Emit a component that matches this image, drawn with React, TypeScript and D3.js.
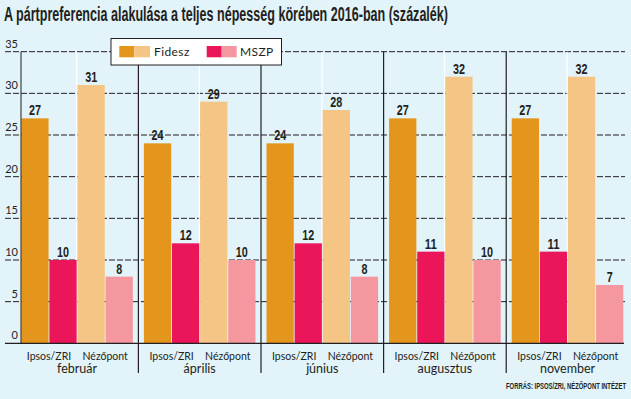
import * as d3 from "d3";

const months = ["február", "április", "június", "augusztus", "november"];
const pollsters = ["Ipsos/ZRI", "Nézőpont"];
const ipsosFidesz = [27, 24, 24, 27, 27];
const ipsosMszp = [10, 12, 12, 11, 11];
const nezopontFidesz = [31, 29, 28, 32, 32];
const nezopontMszp = [8, 10, 8, 10, 7];
const yTicks = [0, 5, 10, 15, 20, 25, 30, 35];

const W = 631;
const H = 399;
const BG = "#e2f3f9";
const INK = "#231f20";
const COND = "'Liberation Sans', 'DejaVu Sans', sans-serif";
const SANS = "Lato, 'Open Sans', sans-serif";

const seriesKeys = ["ipsosFidesz", "ipsosMszp", "nezopontFidesz", "nezopontMszp"];
const seriesColor: Record<string, string> = {
  ipsosFidesz: "#e3961b",
  ipsosMszp: "#eb165a",
  nezopontFidesz: "#f5c586",
  nezopontMszp: "#f5979e",
};

export default function App() {
  const x0 = d3.scaleBand<string>().domain(months).range([21.3, 623.3]).paddingInner(0.09).paddingOuter(0);
  const x1 = d3.scaleBand<string>().domain(seriesKeys).range([0, x0.bandwidth()]).paddingInner(0.03);
  const y = d3.scaleLinear().domain([0, 35]).range([343.3, 51.7]);
  const gap = x0.step() - x0.bandwidth();

  const rows = months.map((m, i) => ({
    month: m,
    values: {
      ipsosFidesz: ipsosFidesz[i],
      ipsosMszp: ipsosMszp[i],
      nezopontFidesz: nezopontFidesz[i],
      nezopontMszp: nezopontMszp[i],
    } as Record<string, number>,
  }));

  return (
    <svg width={W} height={H} style={{ position: "absolute", left: 0, top: 0, background: BG }}>
      <rect width={W} height={H} fill={BG} />
      <text x={4} y={20.5} fontFamily={COND} fontWeight="bold" fontSize={20} fill={INK}
        textLength={444} lengthAdjust="spacingAndGlyphs">
        A pártpreferencia alakulása a teljes népesség körében 2016-ban (százalék)
      </text>

      {/* grid */}
      {yTicks.filter(t => t > 0).map(t => (
        <line key={t} x1={5} x2={625} y1={y(t)} y2={y(t)} stroke={INK} strokeWidth={1} strokeDasharray="6,2" />
      ))}
      {yTicks.map(t => (
        <text key={`t${t}`} x={18} y={y(t) - 4} textAnchor="end" fontFamily={SANS} fontSize={11} fill={INK}>
          {t}
        </text>
      ))}

      {/* white separators between pollsters */}
      {months.map(m => (
        <line key={`w${m}`} x1={x0(m)! + x1("nezopontFidesz")! - 0.8} x2={x0(m)! + x1("nezopontFidesz")! - 0.8}
          y1={y(35)} y2={y(0)} stroke="#ffffff" strokeWidth={1.2} />
      ))}

      {/* bars */}
      {rows.map(r => (
        <g key={r.month} transform={`translate(${x0(r.month)},0)`}>
          {seriesKeys.map(k => (
            <g key={k}>
              <rect x={x1(k)} y={y(r.values[k])} width={x1.bandwidth()} height={y(0) - y(r.values[k])} fill={seriesColor[k]} />
              <text x={x1(k)! + x1.bandwidth() / 2} y={y(r.values[k]) - 3} textAnchor="middle"
                fontFamily={COND} fontWeight="bold" fontSize={14} fill={INK}
                textLength={String(r.values[k]).length * 6} lengthAdjust="spacingAndGlyphs">
                {r.values[k]}
              </text>
            </g>
          ))}
        </g>
      ))}

      {/* axes */}
      <line x1={5} x2={624} y1={y(0)} y2={y(0)} stroke={INK} strokeWidth={1.2} />
      <line x1={21} x2={21} y1={y(35)} y2={y(0)} stroke={INK} strokeWidth={1} />
      {months.slice(1).map(m => (
        <line key={`s${m}`} x1={x0(m)! - gap / 2} x2={x0(m)! - gap / 2} y1={y(35)} y2={373} stroke={INK} strokeWidth={1.2} />
      ))}

      {/* category labels */}
      {months.map(m => (
        <g key={`l${m}`}>
          {pollsters.map((p, j) => {
            const a = x1(seriesKeys[j * 2])!;
            const b = x1(seriesKeys[j * 2 + 1])! + x1.bandwidth();
            return (
              <text key={p} x={x0(m)! + (a + b) / 2} y={360} textAnchor="middle" fontFamily={SANS} fontSize={10.5}
                fill={INK}>
                {p}
              </text>
            );
          })}
          <text x={x0(m)! + x0.bandwidth() / 2} y={372.5} textAnchor="middle" fontFamily={SANS} fontSize={12.5}
            fill={INK}>
            {m}
          </text>
        </g>
      ))}

      {/* legend */}
      <rect x={111} y={38.5} width={170.5} height={26.5} fill="#ffffff" stroke={INK} strokeWidth={1} />
      <rect x={119.3} y={46} width={15} height={11.3} fill={seriesColor.ipsosFidesz} />
      <rect x={134.3} y={46} width={15.7} height={11.3} fill={seriesColor.nezopontFidesz} />
      <text x={154} y={56} fontFamily={SANS} fontSize={12} letterSpacing={0.4} fill={INK}>Fidesz</text>
      <rect x={206.7} y={46} width={15} height={11.3} fill={seriesColor.ipsosMszp} />
      <rect x={221.7} y={46} width={15} height={11.3} fill={seriesColor.nezopontMszp} />
      <text x={240} y={56} fontFamily={SANS} fontSize={12} letterSpacing={0.4} fill={INK}>MSZP</text>

      <text x={626} y={389} textAnchor="end" fontFamily={COND} fontWeight="bold" fontSize={9} fill={INK}
        textLength={120} lengthAdjust="spacingAndGlyphs">
        FORRÁS: IPSOS/ZRI, NÉZŐPONT INTÉZET
      </text>
    </svg>
  );
}
